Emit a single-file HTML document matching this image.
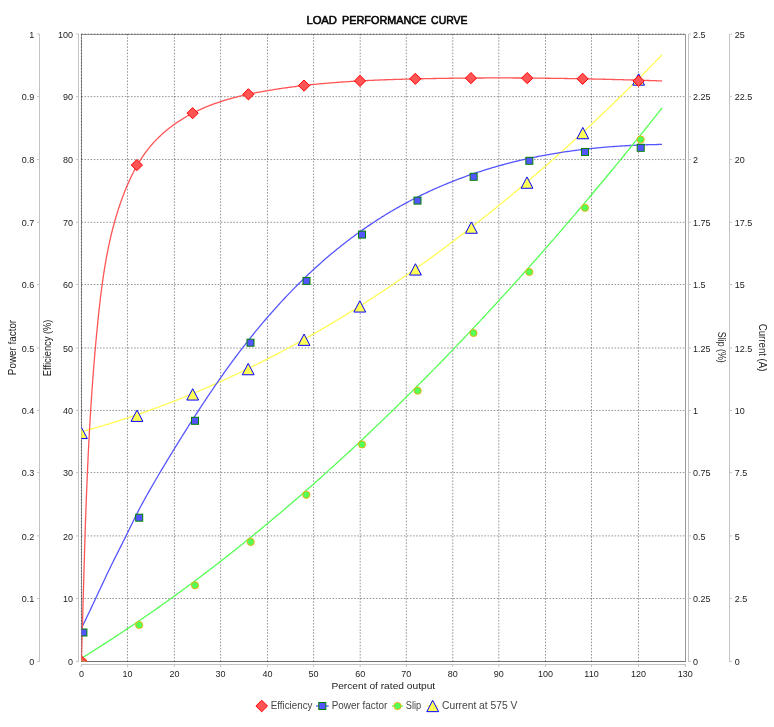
<!DOCTYPE html>
<html><head><meta charset="utf-8"><title>Load Performance Curve</title>
<style>html,body{margin:0;padding:0;background:#fff;width:774px;height:727px;overflow:hidden}</style>
</head><body>
<svg width="774" height="727" viewBox="0 0 774 727" style="display:block;will-change:transform">
<rect x="0" y="0" width="774" height="727" fill="#ffffff"/>
<text x="306.4" y="23.9" font-family="'Liberation Sans', sans-serif" font-size="11" fill="#000" stroke="#000" stroke-width="0.55" textLength="30.6" lengthAdjust="spacingAndGlyphs">LOAD</text>
<text x="342.1" y="23.9" font-family="'Liberation Sans', sans-serif" font-size="11" fill="#000" stroke="#000" stroke-width="0.55" textLength="84.2" lengthAdjust="spacingAndGlyphs">PERFORMANCE</text>
<text x="431.1" y="23.9" font-family="'Liberation Sans', sans-serif" font-size="11" fill="#000" stroke="#000" stroke-width="0.55" textLength="36.4" lengthAdjust="spacingAndGlyphs">CURVE</text>
<rect x="81.4" y="34.0" width="603.9" height="627.4" fill="#ffffff"/>
<defs><clipPath id="pc"><rect x="81.4" y="34.0" width="603.9" height="627.4"/></clipPath></defs>
<rect x="81.5" y="34.5" width="604" height="627" fill="none" stroke="#999999" stroke-width="1"/>
<line x1="81.4" y1="661.5" x2="685.8" y2="661.5" stroke="#707070" stroke-width="1"/>
<line x1="81.40" y1="34.0" x2="81.40" y2="661.4" stroke="#000000" stroke-opacity="0.85" stroke-width="0.5" stroke-dasharray="1.55 1.55"/>
<line x1="127.46" y1="34.0" x2="127.46" y2="661.4" stroke="#000000" stroke-opacity="0.85" stroke-width="0.5" stroke-dasharray="1.55 1.55"/>
<line x1="174.40" y1="34.0" x2="174.40" y2="661.4" stroke="#000000" stroke-opacity="0.85" stroke-width="0.5" stroke-dasharray="1.55 1.55"/>
<line x1="220.60" y1="34.0" x2="220.60" y2="661.4" stroke="#000000" stroke-opacity="0.85" stroke-width="0.5" stroke-dasharray="1.55 1.55"/>
<line x1="267.46" y1="34.0" x2="267.46" y2="661.4" stroke="#000000" stroke-opacity="0.85" stroke-width="0.5" stroke-dasharray="1.55 1.55"/>
<line x1="313.60" y1="34.0" x2="313.60" y2="661.4" stroke="#000000" stroke-opacity="0.85" stroke-width="0.5" stroke-dasharray="1.55 1.55"/>
<line x1="360.20" y1="34.0" x2="360.20" y2="661.4" stroke="#000000" stroke-opacity="0.85" stroke-width="0.5" stroke-dasharray="1.55 1.55"/>
<line x1="406.30" y1="34.0" x2="406.30" y2="661.4" stroke="#000000" stroke-opacity="0.85" stroke-width="0.5" stroke-dasharray="1.55 1.55"/>
<line x1="452.75" y1="34.0" x2="452.75" y2="661.4" stroke="#000000" stroke-opacity="0.85" stroke-width="0.5" stroke-dasharray="1.55 1.55"/>
<line x1="498.80" y1="34.0" x2="498.80" y2="661.4" stroke="#000000" stroke-opacity="0.85" stroke-width="0.5" stroke-dasharray="1.55 1.55"/>
<line x1="545.50" y1="34.0" x2="545.50" y2="661.4" stroke="#000000" stroke-opacity="0.85" stroke-width="0.5" stroke-dasharray="1.55 1.55"/>
<line x1="591.50" y1="34.0" x2="591.50" y2="661.4" stroke="#000000" stroke-opacity="0.85" stroke-width="0.5" stroke-dasharray="1.55 1.55"/>
<line x1="638.47" y1="34.0" x2="638.47" y2="661.4" stroke="#000000" stroke-opacity="0.85" stroke-width="0.5" stroke-dasharray="1.55 1.55"/>
<line x1="81.4" y1="598.50" x2="685.3" y2="598.50" stroke="#000000" stroke-opacity="0.85" stroke-width="0.5" stroke-dasharray="1.55 1.55"/>
<line x1="81.4" y1="535.90" x2="685.3" y2="535.90" stroke="#000000" stroke-opacity="0.85" stroke-width="0.5" stroke-dasharray="1.55 1.55"/>
<line x1="81.4" y1="472.60" x2="685.3" y2="472.60" stroke="#000000" stroke-opacity="0.85" stroke-width="0.5" stroke-dasharray="1.55 1.55"/>
<line x1="81.4" y1="410.45" x2="685.3" y2="410.45" stroke="#000000" stroke-opacity="0.85" stroke-width="0.5" stroke-dasharray="1.55 1.55"/>
<line x1="81.4" y1="348.00" x2="685.3" y2="348.00" stroke="#000000" stroke-opacity="0.85" stroke-width="0.5" stroke-dasharray="1.55 1.55"/>
<line x1="81.4" y1="284.50" x2="685.3" y2="284.50" stroke="#000000" stroke-opacity="0.85" stroke-width="0.5" stroke-dasharray="1.55 1.55"/>
<line x1="81.4" y1="222.30" x2="685.3" y2="222.30" stroke="#000000" stroke-opacity="0.85" stroke-width="0.5" stroke-dasharray="1.55 1.55"/>
<line x1="81.4" y1="159.55" x2="685.3" y2="159.55" stroke="#000000" stroke-opacity="0.85" stroke-width="0.5" stroke-dasharray="1.55 1.55"/>
<line x1="81.4" y1="96.65" x2="685.3" y2="96.65" stroke="#000000" stroke-opacity="0.85" stroke-width="0.5" stroke-dasharray="1.55 1.55"/>
<line x1="81.4" y1="34.00" x2="685.3" y2="34.00" stroke="#000000" stroke-opacity="0.85" stroke-width="0.5" stroke-dasharray="1.55 1.55"/>
<g clip-path="url(#pc)" fill="none" stroke-width="1.3" stroke-linejoin="round">
<polyline points="81.40,431.81 82.86,431.41 84.31,431.02 85.77,430.61 87.22,430.21 88.68,429.80 90.13,429.39 91.59,428.98 93.04,428.57 94.50,428.15 95.95,427.73 97.41,427.30 98.86,426.88 100.32,426.45 101.77,426.02 103.23,425.58 104.68,425.15 106.14,424.71 107.59,424.26 109.05,423.82 110.50,423.37 111.96,422.92 113.41,422.47 114.87,422.01 116.32,421.55 117.78,421.09 119.23,420.62 120.69,420.16 122.14,419.69 123.60,419.21 125.05,418.74 126.51,418.26 127.96,417.78 129.42,417.30 130.87,416.81 132.33,416.32 133.78,415.83 135.24,415.33 136.70,414.84 138.15,414.34 139.61,413.83 141.06,413.33 142.52,412.82 143.97,412.31 145.43,411.80 146.88,411.28 148.34,410.76 149.79,410.24 151.25,409.71 152.70,409.19 154.16,408.66 155.61,408.12 157.07,407.59 158.52,407.05 159.98,406.51 161.43,405.97 162.89,405.42 164.34,404.87 165.80,404.32 167.25,403.76 168.71,403.21 170.16,402.64 171.62,402.08 173.07,401.52 174.53,400.95 175.98,400.38 177.44,399.80 178.89,399.23 180.35,398.65 181.80,398.06 183.26,397.48 184.71,396.89 186.17,396.30 187.63,395.71 189.08,395.11 190.54,394.51 191.99,393.91 193.45,393.31 194.90,392.70 196.36,392.09 197.81,391.48 199.27,390.86 200.72,390.25 202.18,389.63 203.63,389.00 205.09,388.38 206.54,387.75 208.00,387.12 209.45,386.48 210.91,385.84 212.36,385.20 213.82,384.56 215.27,383.92 216.73,383.27 218.18,382.62 219.64,381.96 221.09,381.31 222.55,380.65 224.00,379.99 225.46,379.32 226.91,378.65 228.37,377.98 229.82,377.31 231.28,376.64 232.73,375.96 234.19,375.28 235.64,374.59 237.10,373.91 238.55,373.22 240.01,372.52 241.47,371.83 242.92,371.13 244.38,370.43 245.83,369.73 247.29,369.02 248.74,368.31 250.20,367.60 251.65,366.89 253.11,366.17 254.56,365.45 256.02,364.73 257.47,364.00 258.93,363.28 260.38,362.55 261.84,361.81 263.29,361.08 264.75,360.34 266.20,359.60 267.66,358.85 269.11,358.10 270.57,357.35 272.02,356.60 273.48,355.85 274.93,355.09 276.39,354.33 277.84,353.56 279.30,352.80 280.75,352.03 282.21,351.26 283.66,350.48 285.12,349.70 286.57,348.92 288.03,348.14 289.48,347.35 290.94,346.57 292.39,345.77 293.85,344.98 295.31,344.18 296.76,343.38 298.22,342.58 299.67,341.78 301.13,340.97 302.58,340.16 304.04,339.35 305.49,338.53 306.95,337.71 308.40,336.89 309.86,336.06 311.31,335.24 312.77,334.41 314.22,333.57 315.68,332.74 317.13,331.90 318.59,331.06 320.04,330.22 321.50,329.37 322.95,328.52 324.41,327.67 325.86,326.81 327.32,325.96 328.77,325.10 330.23,324.23 331.68,323.37 333.14,322.50 334.59,321.63 336.05,320.75 337.50,319.88 338.96,319.00 340.41,318.11 341.87,317.23 343.32,316.34 344.78,315.45 346.24,314.56 347.69,313.66 349.15,312.76 350.60,311.86 352.06,310.96 353.51,310.05 354.97,309.14 356.42,308.23 357.88,307.31 359.33,306.39 360.79,305.47 362.24,304.55 363.70,303.62 365.15,302.69 366.61,301.76 368.06,300.82 369.52,299.89 370.97,298.95 372.43,298.00 373.88,297.06 375.34,296.11 376.79,295.16 378.25,294.20 379.70,293.24 381.16,292.28 382.61,291.32 384.07,290.36 385.52,289.39 386.98,288.42 388.43,287.44 389.89,286.47 391.34,285.49 392.80,284.51 394.25,283.52 395.71,282.53 397.16,281.54 398.62,280.55 400.08,279.55 401.53,278.56 402.99,277.55 404.44,276.55 405.90,275.54 407.35,274.53 408.81,273.52 410.26,272.50 411.72,271.49 413.17,270.47 414.63,269.44 416.08,268.42 417.54,267.39 418.99,266.35 420.45,265.32 421.90,264.28 423.36,263.24 424.81,262.20 426.27,261.15 427.72,260.10 429.18,259.05 430.63,258.00 432.09,256.94 433.54,255.88 435.00,254.82 436.45,253.75 437.91,252.69 439.36,251.62 440.82,250.54 442.27,249.47 443.73,248.39 445.18,247.31 446.64,246.22 448.09,245.13 449.55,244.04 451.01,242.95 452.46,241.85 453.92,240.76 455.37,239.65 456.83,238.55 458.28,237.44 459.74,236.33 461.19,235.22 462.65,234.11 464.10,232.99 465.56,231.87 467.01,230.74 468.47,229.62 469.92,228.49 471.38,227.36 472.83,226.22 474.29,225.08 475.74,223.94 477.20,222.80 478.65,221.65 480.11,220.50 481.56,219.35 483.02,218.20 484.47,217.04 485.93,215.88 487.38,214.72 488.84,213.55 490.29,212.39 491.75,211.22 493.20,210.04 494.66,208.87 496.11,207.69 497.57,206.50 499.02,205.32 500.48,204.13 501.93,202.94 503.39,201.75 504.85,200.55 506.30,199.35 507.76,198.15 509.21,196.95 510.67,195.74 512.12,194.53 513.58,193.32 515.03,192.10 516.49,190.88 517.94,189.66 519.40,188.44 520.85,187.21 522.31,185.98 523.76,184.75 525.22,183.52 526.67,182.28 528.13,181.04 529.58,179.79 531.04,178.55 532.49,177.30 533.95,176.05 535.40,174.79 536.86,173.53 538.31,172.27 539.77,171.01 541.22,169.75 542.68,168.48 544.13,167.21 545.59,165.93 547.04,164.66 548.50,163.38 549.95,162.09 551.41,160.81 552.86,159.52 554.32,158.23 555.77,156.94 557.23,155.64 558.69,154.34 560.14,153.04 561.60,151.73 563.05,150.43 564.51,149.12 565.96,147.80 567.42,146.49 568.87,145.17 570.33,143.85 571.78,142.52 573.24,141.19 574.69,139.86 576.15,138.53 577.60,137.20 579.06,135.86 580.51,134.52 581.97,133.17 583.42,131.83 584.88,130.48 586.33,129.12 587.79,127.77 589.24,126.41 590.70,125.05 592.15,123.69 593.61,122.32 595.06,120.95 596.52,119.58 597.97,118.21 599.43,116.83 600.88,115.45 602.34,114.06 603.79,112.68 605.25,111.29 606.70,109.90 608.16,108.50 609.62,107.11 611.07,105.71 612.53,104.30 613.98,102.90 615.44,101.49 616.89,100.08 618.35,98.67 619.80,97.25 621.26,95.83 622.71,94.41 624.17,92.98 625.62,91.55 627.08,90.12 628.53,88.69 629.99,87.25 631.44,85.81 632.90,84.37 634.35,82.93 635.81,81.48 637.26,80.03 638.72,78.58 640.17,77.12 641.63,75.66 643.08,74.20 644.54,72.74 645.99,71.27 647.45,69.80 648.90,68.33 650.36,66.85 651.81,65.37 653.27,63.89 654.72,62.41 656.18,60.92 657.63,59.43 659.09,57.94 660.54,56.44 662.00,54.95" stroke="#FFFF55"/>
<polyline points="81.40,628.20 82.86,625.28 84.31,622.33 85.77,619.34 87.22,616.33 88.68,613.29 90.13,610.23 91.59,607.15 93.04,604.05 94.50,600.95 95.95,597.83 97.41,594.71 98.86,591.59 100.32,588.47 101.77,585.36 103.23,582.26 104.68,579.17 106.14,576.09 107.59,573.04 109.05,570.01 110.50,567.00 111.96,564.02 113.41,561.08 114.87,558.15 116.32,555.25 117.78,552.36 119.23,549.48 120.69,546.59 122.14,543.71 123.60,540.81 125.05,537.90 126.51,534.97 127.96,532.01 129.42,529.03 130.87,526.03 132.33,523.03 133.78,520.05 135.24,517.10 136.70,514.20 138.15,511.36 139.61,508.56 141.06,505.82 142.52,503.12 143.97,500.46 145.43,497.83 146.88,495.22 148.34,492.64 149.79,490.08 151.25,487.53 152.70,485.00 154.16,482.48 155.61,479.98 157.07,477.49 158.52,475.01 159.98,472.54 161.43,470.09 162.89,467.65 164.34,465.22 165.80,462.80 167.25,460.39 168.71,457.99 170.16,455.60 171.62,453.22 173.07,450.85 174.53,448.48 175.98,446.12 177.44,443.76 178.89,441.42 180.35,439.08 181.80,436.75 183.26,434.42 184.71,432.11 186.17,429.80 187.63,427.50 189.08,425.20 190.54,422.92 191.99,420.64 193.45,418.37 194.90,416.12 196.36,413.87 197.81,411.62 199.27,409.39 200.72,407.17 202.18,404.96 203.63,402.75 205.09,400.56 206.54,398.37 208.00,396.20 209.45,394.04 210.91,391.88 212.36,389.74 213.82,387.61 215.27,385.49 216.73,383.38 218.18,381.28 219.64,379.19 221.09,377.11 222.55,375.05 224.00,372.99 225.46,370.95 226.91,368.92 228.37,366.90 229.82,364.90 231.28,362.90 232.73,360.92 234.19,358.96 235.64,357.00 237.10,355.06 238.55,353.13 240.01,351.21 241.47,349.30 242.92,347.41 244.38,345.53 245.83,343.66 247.29,341.81 248.74,339.96 250.20,338.13 251.65,336.31 253.11,334.50 254.56,332.71 256.02,330.93 257.47,329.15 258.93,327.40 260.38,325.65 261.84,323.91 263.29,322.19 264.75,320.48 266.20,318.77 267.66,317.09 269.11,315.41 270.57,313.74 272.02,312.09 273.48,310.45 274.93,308.81 276.39,307.19 277.84,305.58 279.30,303.99 280.75,302.40 282.21,300.83 283.66,299.26 285.12,297.71 286.57,296.17 288.03,294.64 289.48,293.12 290.94,291.61 292.39,290.11 293.85,288.62 295.31,287.15 296.76,285.68 298.22,284.23 299.67,282.78 301.13,281.35 302.58,279.93 304.04,278.52 305.49,277.11 306.95,275.72 308.40,274.34 309.86,272.97 311.31,271.61 312.77,270.26 314.22,268.92 315.68,267.59 317.13,266.27 318.59,264.96 320.04,263.66 321.50,262.37 322.95,261.09 324.41,259.82 325.86,258.56 327.32,257.31 328.77,256.07 330.23,254.84 331.68,253.62 333.14,252.41 334.59,251.21 336.05,250.01 337.50,248.83 338.96,247.66 340.41,246.49 341.87,245.34 343.32,244.19 344.78,243.06 346.24,241.93 347.69,240.81 349.15,239.70 350.60,238.60 352.06,237.51 353.51,236.43 354.97,235.36 356.42,234.30 357.88,233.24 359.33,232.20 360.79,231.16 362.24,230.13 363.70,229.11 365.15,228.10 366.61,227.09 368.06,226.10 369.52,225.11 370.97,224.14 372.43,223.17 373.88,222.21 375.34,221.25 376.79,220.31 378.25,219.37 379.70,218.45 381.16,217.53 382.61,216.62 384.07,215.71 385.52,214.82 386.98,213.93 388.43,213.05 389.89,212.18 391.34,211.31 392.80,210.46 394.25,209.61 395.71,208.77 397.16,207.93 398.62,207.11 400.08,206.29 401.53,205.48 402.99,204.67 404.44,203.88 405.90,203.09 407.35,202.31 408.81,201.53 410.26,200.77 411.72,200.01 413.17,199.25 414.63,198.51 416.08,197.77 417.54,197.04 418.99,196.31 420.45,195.59 421.90,194.88 423.36,194.18 424.81,193.48 426.27,192.79 427.72,192.11 429.18,191.43 430.63,190.76 432.09,190.09 433.54,189.43 435.00,188.78 436.45,188.14 437.91,187.50 439.36,186.87 440.82,186.24 442.27,185.62 443.73,185.01 445.18,184.40 446.64,183.80 448.09,183.20 449.55,182.61 451.01,182.03 452.46,181.45 453.92,180.88 455.37,180.31 456.83,179.75 458.28,179.19 459.74,178.64 461.19,178.10 462.65,177.56 464.10,177.03 465.56,176.50 467.01,175.98 468.47,175.46 469.92,174.95 471.38,174.45 472.83,173.95 474.29,173.45 475.74,172.96 477.20,172.48 478.65,172.00 480.11,171.52 481.56,171.05 483.02,170.59 484.47,170.13 485.93,169.67 487.38,169.22 488.84,168.78 490.29,168.34 491.75,167.91 493.20,167.48 494.66,167.05 496.11,166.63 497.57,166.22 499.02,165.81 500.48,165.40 501.93,165.00 503.39,164.60 504.85,164.21 506.30,163.82 507.76,163.44 509.21,163.07 510.67,162.69 512.12,162.32 513.58,161.96 515.03,161.60 516.49,161.25 517.94,160.90 519.40,160.55 520.85,160.21 522.31,159.87 523.76,159.54 525.22,159.21 526.67,158.89 528.13,158.57 529.58,158.26 531.04,157.94 532.49,157.64 533.95,157.34 535.40,157.04 536.86,156.74 538.31,156.45 539.77,156.17 541.22,155.89 542.68,155.61 544.13,155.34 545.59,155.07 547.04,154.80 548.50,154.54 549.95,154.28 551.41,154.03 552.86,153.78 554.32,153.53 555.77,153.29 557.23,153.05 558.69,152.82 560.14,152.59 561.60,152.36 563.05,152.14 564.51,151.92 565.96,151.70 567.42,151.49 568.87,151.28 570.33,151.08 571.78,150.88 573.24,150.68 574.69,150.49 576.15,150.30 577.60,150.11 579.06,149.93 580.51,149.75 581.97,149.57 583.42,149.40 584.88,149.23 586.33,149.06 587.79,148.90 589.24,148.74 590.70,148.58 592.15,148.43 593.61,148.28 595.06,148.13 596.52,147.99 597.97,147.85 599.43,147.71 600.88,147.57 602.34,147.44 603.79,147.31 605.25,147.19 606.70,147.07 608.16,146.95 609.62,146.83 611.07,146.72 612.53,146.61 613.98,146.50 615.44,146.40 616.89,146.29 618.35,146.20 619.80,146.10 621.26,146.01 622.71,145.92 624.17,145.83 625.62,145.74 627.08,145.66 628.53,145.58 629.99,145.50 631.44,145.43 632.90,145.36 634.35,145.29 635.81,145.22 637.26,145.15 638.72,145.09 640.17,145.03 641.63,144.97 643.08,144.92 644.54,144.87 645.99,144.82 647.45,144.77 648.90,144.72 650.36,144.68 651.81,144.64 653.27,144.60 654.72,144.56 656.18,144.53 657.63,144.50 659.09,144.47 660.54,144.44 662.00,144.41" stroke="#5555FF"/>
<polyline points="81.40,658.28 82.86,657.39 84.31,656.49 85.77,655.59 87.22,654.69 88.68,653.78 90.13,652.88 91.59,651.96 93.04,651.05 94.50,650.14 95.95,649.22 97.41,648.30 98.86,647.38 100.32,646.45 101.77,645.52 103.23,644.59 104.68,643.66 106.14,642.72 107.59,641.78 109.05,640.84 110.50,639.90 111.96,638.96 113.41,638.01 114.87,637.06 116.32,636.10 117.78,635.15 119.23,634.19 120.69,633.23 122.14,632.27 123.60,631.30 125.05,630.33 126.51,629.36 127.96,628.39 129.42,627.41 130.87,626.43 132.33,625.45 133.78,624.47 135.24,623.48 136.70,622.50 138.15,621.51 139.61,620.51 141.06,619.52 142.52,618.52 143.97,617.52 145.43,616.51 146.88,615.51 148.34,614.50 149.79,613.49 151.25,612.48 152.70,611.46 154.16,610.44 155.61,609.42 157.07,608.40 158.52,607.37 159.98,606.35 161.43,605.32 162.89,604.28 164.34,603.25 165.80,602.21 167.25,601.17 168.71,600.12 170.16,599.08 171.62,598.03 173.07,596.98 174.53,595.93 175.98,594.87 177.44,593.81 178.89,592.75 180.35,591.69 181.80,590.63 183.26,589.56 184.71,588.49 186.17,587.41 187.63,586.34 189.08,585.26 190.54,584.18 191.99,583.10 193.45,582.01 194.90,580.93 196.36,579.84 197.81,578.74 199.27,577.65 200.72,576.55 202.18,575.45 203.63,574.35 205.09,573.24 206.54,572.14 208.00,571.03 209.45,569.91 210.91,568.80 212.36,567.68 213.82,566.56 215.27,565.44 216.73,564.32 218.18,563.19 219.64,562.06 221.09,560.93 222.55,559.79 224.00,558.66 225.46,557.52 226.91,556.37 228.37,555.23 229.82,554.08 231.28,552.93 232.73,551.78 234.19,550.63 235.64,549.47 237.10,548.31 238.55,547.15 240.01,545.99 241.47,544.82 242.92,543.65 244.38,542.48 245.83,541.31 247.29,540.13 248.74,538.95 250.20,537.77 251.65,536.59 253.11,535.40 254.56,534.21 256.02,533.02 257.47,531.83 258.93,530.63 260.38,529.43 261.84,528.23 263.29,527.03 264.75,525.83 266.20,524.62 267.66,523.41 269.11,522.19 270.57,520.98 272.02,519.76 273.48,518.54 274.93,517.32 276.39,516.09 277.84,514.87 279.30,513.64 280.75,512.41 282.21,511.17 283.66,509.93 285.12,508.69 286.57,507.45 288.03,506.21 289.48,504.96 290.94,503.71 292.39,502.46 293.85,501.21 295.31,499.95 296.76,498.69 298.22,497.43 299.67,496.17 301.13,494.90 302.58,493.63 304.04,492.36 305.49,491.09 306.95,489.81 308.40,488.53 309.86,487.25 311.31,485.97 312.77,484.68 314.22,483.39 315.68,482.10 317.13,480.81 318.59,479.52 320.04,478.22 321.50,476.92 322.95,475.62 324.41,474.31 325.86,473.00 327.32,471.69 328.77,470.38 330.23,469.07 331.68,467.75 333.14,466.43 334.59,465.11 336.05,463.79 337.50,462.46 338.96,461.13 340.41,459.80 341.87,458.47 343.32,457.13 344.78,455.79 346.24,454.45 347.69,453.11 349.15,451.76 350.60,450.41 352.06,449.06 353.51,447.71 354.97,446.36 356.42,445.00 357.88,443.64 359.33,442.28 360.79,440.91 362.24,439.54 363.70,438.17 365.15,436.80 366.61,435.43 368.06,434.05 369.52,432.67 370.97,431.29 372.43,429.91 373.88,428.52 375.34,427.13 376.79,425.74 378.25,424.35 379.70,422.95 381.16,421.55 382.61,420.15 384.07,418.75 385.52,417.35 386.98,415.94 388.43,414.53 389.89,413.11 391.34,411.70 392.80,410.28 394.25,408.86 395.71,407.44 397.16,406.02 398.62,404.59 400.08,403.16 401.53,401.73 402.99,400.30 404.44,398.86 405.90,397.42 407.35,395.98 408.81,394.54 410.26,393.09 411.72,391.64 413.17,390.19 414.63,388.74 416.08,387.29 417.54,385.83 418.99,384.37 420.45,382.91 421.90,381.44 423.36,379.97 424.81,378.51 426.27,377.03 427.72,375.56 429.18,374.08 430.63,372.61 432.09,371.12 433.54,369.64 435.00,368.15 436.45,366.67 437.91,365.18 439.36,363.68 440.82,362.19 442.27,360.69 443.73,359.19 445.18,357.69 446.64,356.18 448.09,354.68 449.55,353.17 451.01,351.66 452.46,350.14 453.92,348.63 455.37,347.11 456.83,345.59 458.28,344.06 459.74,342.54 461.19,341.01 462.65,339.48 464.10,337.95 465.56,336.41 467.01,334.87 468.47,333.33 469.92,331.79 471.38,330.25 472.83,328.70 474.29,327.15 475.74,325.60 477.20,324.05 478.65,322.49 480.11,320.93 481.56,319.37 483.02,317.81 484.47,316.24 485.93,314.68 487.38,313.11 488.84,311.53 490.29,309.96 491.75,308.38 493.20,306.80 494.66,305.22 496.11,303.64 497.57,302.05 499.02,300.46 500.48,298.87 501.93,297.28 503.39,295.68 504.85,294.09 506.30,292.49 507.76,290.88 509.21,289.28 510.67,287.67 512.12,286.06 513.58,284.45 515.03,282.84 516.49,281.22 517.94,279.60 519.40,277.98 520.85,276.36 522.31,274.73 523.76,273.10 525.22,271.47 526.67,269.84 528.13,268.20 529.58,266.57 531.04,264.93 532.49,263.29 533.95,261.64 535.40,260.00 536.86,258.35 538.31,256.70 539.77,255.04 541.22,253.39 542.68,251.73 544.13,250.07 545.59,248.41 547.04,246.74 548.50,245.07 549.95,243.40 551.41,241.73 552.86,240.06 554.32,238.38 555.77,236.70 557.23,235.02 558.69,233.34 560.14,231.65 561.60,229.97 563.05,228.28 564.51,226.58 565.96,224.89 567.42,223.19 568.87,221.49 570.33,219.79 571.78,218.09 573.24,216.38 574.69,214.67 576.15,212.96 577.60,211.25 579.06,209.53 580.51,207.82 581.97,206.10 583.42,204.38 584.88,202.65 586.33,200.92 587.79,199.20 589.24,197.46 590.70,195.73 592.15,193.99 593.61,192.26 595.06,190.52 596.52,188.77 597.97,187.03 599.43,185.28 600.88,183.53 602.34,181.78 603.79,180.03 605.25,178.27 606.70,176.51 608.16,174.75 609.62,172.99 611.07,171.22 612.53,169.46 613.98,167.69 615.44,165.91 616.89,164.14 618.35,162.36 619.80,160.58 621.26,158.80 622.71,157.02 624.17,155.23 625.62,153.45 627.08,151.66 628.53,149.86 629.99,148.07 631.44,146.27 632.90,144.47 634.35,142.67 635.81,140.87 637.26,139.06 638.72,137.25 640.17,135.44 641.63,133.63 643.08,131.82 644.54,130.00 645.99,128.18 647.45,126.36 648.90,124.53 650.36,122.71 651.81,120.88 653.27,119.05 654.72,117.21 656.18,115.38 657.63,113.54 659.09,111.70 660.54,109.86 662.00,108.02" stroke="#55FF55"/>
<polyline points="81.40,661.40 81.44,660.23 81.47,659.05 81.51,657.88 81.54,656.71 81.58,655.53 81.62,654.36 81.65,653.19 81.69,652.01 81.72,650.84 81.76,649.67 81.79,648.50 81.82,647.32 81.86,646.15 81.89,644.98 81.93,643.80 81.96,642.63 82.00,641.46 82.03,640.29 82.06,639.11 82.10,637.94 82.13,636.77 82.17,635.59 82.20,634.42 82.23,633.25 82.27,632.08 82.30,630.90 82.33,629.73 82.37,628.56 82.40,627.39 82.43,626.22 82.46,625.04 82.50,623.87 82.53,622.70 82.56,621.53 82.60,620.35 82.63,619.18 82.66,618.01 82.69,616.84 82.73,615.67 82.76,614.49 82.79,613.32 82.83,612.15 82.86,610.98 82.89,609.81 82.92,608.63 82.96,607.46 82.99,606.29 83.02,605.12 83.05,603.95 83.09,602.77 83.12,601.60 83.15,600.43 83.18,599.26 83.22,598.09 83.25,596.92 83.28,595.74 83.31,594.57 83.35,593.40 83.38,592.23 83.41,591.06 83.44,589.89 83.48,588.72 83.51,587.54 83.54,586.37 83.58,585.20 83.61,584.03 83.64,582.86 83.68,581.69 83.71,580.52 83.74,579.35 83.77,578.17 83.81,577.00 83.84,575.83 83.87,574.66 83.91,573.49 83.94,572.32 83.98,571.15 84.01,569.98 84.04,568.81 84.08,567.64 84.11,566.46 84.15,565.29 84.18,564.12 84.21,562.95 84.25,561.78 84.28,560.61 84.32,559.44 84.35,558.27 84.39,557.10 84.42,555.93 84.46,554.76 84.49,553.59 84.53,552.42 84.56,551.25 84.60,550.08 84.63,548.90 84.67,547.73 84.71,546.56 84.74,545.39 84.78,544.22 84.82,543.05 84.85,541.88 84.89,540.71 84.93,539.54 84.96,538.37 85.00,537.20 85.04,536.03 85.08,534.86 85.11,533.69 85.15,532.52 85.19,531.35 85.23,530.18 85.27,529.01 85.30,527.84 85.34,526.67 85.38,525.50 85.42,524.33 85.46,523.16 85.50,521.99 85.54,520.82 85.58,519.65 85.62,518.48 85.66,517.31 85.70,516.14 85.74,514.97 85.79,513.80 85.83,512.63 85.87,511.46 85.91,510.29 85.95,509.12 85.99,507.95 86.04,506.78 86.08,505.61 86.12,504.44 86.17,503.27 86.21,502.10 86.25,500.93 86.30,499.76 86.34,498.59 86.39,497.42 86.43,496.25 86.48,495.08 86.52,493.91 86.57,492.74 86.62,491.57 86.66,490.40 86.71,489.23 86.75,488.07 86.80,486.90 86.85,485.73 86.90,484.56 86.95,483.39 86.99,482.22 87.04,481.05 87.09,479.88 87.14,478.71 87.19,477.54 87.24,476.37 87.29,475.20 87.34,474.03 87.39,472.86 87.44,471.69 87.50,470.52 87.55,469.35 87.60,468.19 87.65,467.02 87.71,465.85 87.76,464.68 87.81,463.51 87.87,462.34 87.92,461.17 87.98,460.00 88.03,458.83 88.09,457.66 88.14,456.49 88.20,455.32 88.26,454.15 88.31,452.99 88.37,451.82 88.43,450.65 88.49,449.48 88.54,448.31 88.60,447.14 88.66,445.97 88.72,444.80 88.78,443.63 88.84,442.46 88.90,441.29 88.96,440.13 89.03,438.96 89.09,437.79 89.15,436.62 89.21,435.45 89.28,434.28 89.34,433.11 89.41,431.94 89.47,430.77 89.54,429.60 89.60,428.44 89.67,427.27 89.73,426.10 89.80,424.93 89.87,423.76 89.94,422.59 90.00,421.42 90.07,420.25 90.14,419.08 90.21,417.91 90.28,416.75 90.35,415.58 90.42,414.41 90.50,413.24 90.57,412.07 90.64,410.90 90.71,409.73 90.79,408.56 90.86,407.39 90.94,406.23 91.01,405.06 91.09,403.89 91.16,402.72 91.24,401.55 91.32,400.38 91.39,399.21 91.47,398.04 91.55,396.88 91.63,395.71 91.71,394.54 91.79,393.37 91.87,392.20 91.95,391.03 92.03,389.86 92.12,388.69 92.20,387.52 92.28,386.36 92.37,385.19 92.45,384.02 92.54,382.85 92.62,381.68 92.71,380.51 92.80,379.34 92.88,378.17 92.97,377.01 93.06,375.84 93.15,374.67 93.24,373.50 93.33,372.33 93.42,371.16 93.51,369.99 93.60,368.82 93.70,367.66 93.79,366.49 93.88,365.32 93.98,364.15 94.07,362.98 94.17,361.81 94.26,360.64 94.36,359.47 94.46,358.31 94.56,357.14 94.65,355.97 94.75,354.80 94.85,353.63 94.95,352.46 95.06,351.29 95.16,350.12 95.26,348.95 95.36,347.79 95.47,346.62 95.57,345.45 95.68,344.28 95.78,343.11 95.89,341.94 96.00,340.77 96.10,339.60 96.21,338.44 96.32,337.27 96.43,336.10 96.54,334.93 96.65,333.76 96.76,332.59 96.88,331.42 96.99,330.25 97.10,329.08 97.22,327.92 97.33,326.75 97.45,325.58 97.57,324.41 97.68,323.24 97.80,322.07 97.92,320.90 98.04,319.73 98.16,318.56 98.28,317.40 98.40,316.23 98.53,315.06 98.65,313.89 98.77,312.72 98.90,311.55 99.03,310.38 99.15,309.21 99.28,308.05 99.41,306.88 99.54,305.71 99.67,304.54 99.81,303.37 99.94,302.21 100.08,301.04 100.21,299.87 100.35,298.70 100.49,297.54 100.63,296.37 100.78,295.20 100.92,294.04 101.07,292.87 101.21,291.71 101.36,290.54 101.51,289.38 101.66,288.21 101.82,287.05 101.97,285.88 102.13,284.72 102.29,283.55 102.45,282.39 102.61,281.23 102.78,280.07 102.95,278.90 103.12,277.74 103.29,276.58 103.46,275.42 103.64,274.26 103.81,273.10 103.99,271.94 104.17,270.78 104.36,269.62 104.55,268.47 104.73,267.31 104.93,266.15 105.12,265.00 105.32,263.84 105.51,262.69 105.72,261.53 105.92,260.38 106.13,259.22 106.34,258.07 106.55,256.92 106.76,255.77 106.98,254.62 107.20,253.47 107.42,252.32 107.65,251.17 107.88,250.02 108.11,248.87 108.34,247.73 108.58,246.58 108.82,245.44 109.07,244.29 109.31,243.15 109.56,242.01 109.82,240.86 110.07,239.72 110.33,238.58 110.60,237.44 110.86,236.30 111.13,235.17 111.41,234.03 111.68,232.89 111.96,231.76 112.25,230.62 112.53,229.49 112.83,228.36 113.12,227.23 113.42,226.10 113.72,224.97 114.03,223.84 114.34,222.71 114.65,221.58 114.97,220.46 115.29,219.33 115.61,218.21 115.94,217.09 116.28,215.97 116.61,214.85 116.96,213.73 117.30,212.61 117.65,211.49 118.01,210.38 118.36,209.26 118.73,208.15 119.09,207.04 119.47,205.92 119.84,204.81 120.22,203.70 120.61,202.60 120.99,201.49 121.39,200.39 121.79,199.28 122.19,198.18 122.60,197.08 123.01,195.98 123.43,194.88 123.85,193.78 124.27,192.68 124.71,191.59 125.14,190.50 125.58,189.40 126.03,188.31 126.48,187.23 126.94,186.14 127.40,185.06 127.87,183.98 128.35,182.90 128.82,181.82 129.31,180.75 129.80,179.68 130.30,178.62 130.80,177.55 131.31,176.49 131.83,175.44 132.35,174.38 132.88,173.33 133.41,172.29 133.95,171.25 134.50,170.21 135.06,169.18 135.62,168.15 136.19,167.12 136.76,166.11 137.35,165.09 137.94,164.08 138.54,163.08 139.14,162.08 139.75,161.08 140.37,160.10 141.00,159.11 141.64,158.14 142.28,157.17 142.93,156.20 143.59,155.24 144.26,154.29 144.93,153.34 145.62,152.40 146.31,151.47 147.01,150.54 147.72,149.62 148.43,148.71 149.16,147.80 149.90,146.91 150.64,146.02 151.39,145.13 152.15,144.26 152.92,143.39 153.70,142.53 154.49,141.68 155.28,140.83 156.09,139.99 156.90,139.16 157.72,138.34 158.55,137.52 159.38,136.72 160.23,135.92 161.08,135.12 161.93,134.34 162.80,133.56 163.67,132.79 164.55,132.03 165.44,131.27 166.33,130.52 167.23,129.78 168.14,129.05 169.05,128.32 169.97,127.61 170.90,126.90 171.83,126.19 172.77,125.50 173.72,124.81 174.67,124.13 175.62,123.46 176.59,122.79 177.55,122.14 178.53,121.48 179.51,120.84 180.49,120.21 181.48,119.58 182.47,118.96 183.47,118.35 184.48,117.74 185.49,117.14 186.50,116.55 187.52,115.97 188.54,115.40 189.57,114.83 190.60,114.27 191.63,113.72 192.67,113.17 193.72,112.63 194.76,112.10 195.81,111.58 196.87,111.07 197.92,110.56 198.98,110.06 200.05,109.57 201.12,109.08 202.19,108.60 203.26,108.13 204.33,107.67 205.41,107.22 206.50,106.77 207.58,106.33 208.67,105.89 209.76,105.46 210.85,105.04 211.95,104.63 213.04,104.22 214.15,103.82 215.25,103.42 216.35,103.03 217.46,102.65 218.57,102.27 219.68,101.90 220.80,101.54 221.92,101.18 223.03,100.83 224.16,100.48 225.28,100.14 226.40,99.80 227.53,99.47 228.66,99.14 229.79,98.82 230.92,98.51 232.05,98.20 233.19,97.89 234.33,97.59 235.47,97.30 236.61,97.01 237.75,96.72 238.89,96.44 240.04,96.16 241.18,95.89 242.33,95.62 243.48,95.35 244.63,95.09 245.78,94.84 246.93,94.58 248.08,94.33 249.23,94.09 250.39,93.85 251.54,93.61 252.70,93.38 253.85,93.14 255.01,92.92 256.17,92.69 257.33,92.47 258.49,92.25 259.65,92.04 260.81,91.82 261.97,91.61 263.13,91.41 264.29,91.20 265.45,91.00 266.61,90.80 267.77,90.60 268.93,90.41 270.09,90.21 271.25,90.02 272.42,89.83 273.58,89.65 274.74,89.46 275.90,89.28 277.06,89.10 278.23,88.92 279.39,88.75 280.55,88.58 281.71,88.40 282.87,88.23 284.04,88.07 285.20,87.90 286.36,87.74 287.52,87.58 288.69,87.42 289.85,87.26 291.01,87.11 292.18,86.95 293.34,86.80 294.50,86.65 295.67,86.51 296.83,86.36 297.99,86.22 299.16,86.07 300.32,85.93 301.48,85.80 302.65,85.66 303.81,85.53 304.97,85.39 306.14,85.26 307.30,85.13 308.47,85.01 309.63,84.88 310.80,84.76 311.96,84.63 313.12,84.51 314.29,84.40 315.45,84.28 316.62,84.16 317.78,84.05 318.95,83.94 320.11,83.83 321.28,83.72 322.44,83.61 323.61,83.51 324.77,83.40 325.94,83.30 327.10,83.20 328.27,83.10 329.43,83.00 330.60,82.90 331.76,82.81 332.93,82.71 334.10,82.62 335.26,82.53 336.43,82.44 337.59,82.35 338.76,82.27 339.93,82.18 341.09,82.10 342.26,82.02 343.43,81.93 344.59,81.85 345.76,81.78 346.92,81.70 348.09,81.62 349.26,81.55 350.42,81.47 351.59,81.40 352.76,81.33 353.93,81.26 355.09,81.19 356.26,81.12 357.43,81.06 358.59,80.99 359.76,80.93 360.93,80.87 362.10,80.80 363.26,80.74 364.43,80.68 365.60,80.62 366.77,80.57 367.93,80.51 369.10,80.45 370.27,80.40 371.44,80.35 372.61,80.29 373.77,80.24 374.94,80.19 376.11,80.14 377.28,80.09 378.45,80.04 379.62,80.00 380.79,79.95 381.95,79.90 383.12,79.86 384.29,79.81 385.46,79.77 386.63,79.73 387.80,79.69 388.97,79.65 390.14,79.61 391.30,79.57 392.47,79.53 393.64,79.49 394.81,79.45 395.98,79.42 397.15,79.38 398.32,79.35 399.49,79.31 400.66,79.28 401.83,79.24 403.00,79.21 404.17,79.18 405.34,79.15 406.51,79.11 407.68,79.08 408.85,79.05 410.02,79.02 411.19,79.00 412.36,78.97 413.53,78.94 414.70,78.91 415.87,78.88 417.04,78.86 418.21,78.83 419.38,78.80 420.55,78.78 421.72,78.75 422.90,78.73 424.07,78.70 425.24,78.68 426.41,78.65 427.58,78.63 428.75,78.61 429.92,78.59 431.09,78.56 432.26,78.54 433.43,78.52 434.61,78.50 435.78,78.48 436.95,78.46 438.12,78.44 439.29,78.42 440.46,78.40 441.64,78.38 442.81,78.37 443.98,78.35 445.15,78.33 446.32,78.31 447.49,78.30 448.67,78.28 449.84,78.27 451.01,78.25 452.18,78.24 453.35,78.22 454.53,78.21 455.70,78.19 456.87,78.18 458.04,78.17 459.21,78.15 460.39,78.14 461.56,78.13 462.73,78.12 463.90,78.11 465.08,78.10 466.25,78.09 467.42,78.08 468.59,78.07 469.77,78.06 470.94,78.05 472.11,78.04 473.28,78.03 474.46,78.03 475.63,78.02 476.80,78.01 477.97,78.01 479.15,78.00 480.32,77.99 481.49,77.99 482.67,77.98 483.84,77.98 485.01,77.97 486.18,77.97 487.36,77.97 488.53,77.96 489.70,77.96 490.88,77.96 492.05,77.96 493.22,77.95 494.40,77.95 495.57,77.95 496.74,77.95 497.91,77.95 499.09,77.95 500.26,77.95 501.43,77.95 502.61,77.95 503.78,77.95 504.95,77.96 506.13,77.96 507.30,77.96 508.47,77.96 509.65,77.97 510.82,77.97 511.99,77.97 513.17,77.98 514.34,77.98 515.51,77.99 516.69,77.99 517.86,78.00 519.03,78.00 520.21,78.01 521.38,78.02 522.55,78.02 523.73,78.03 524.90,78.04 526.07,78.04 527.25,78.05 528.42,78.06 529.59,78.07 530.76,78.08 531.94,78.09 533.11,78.10 534.28,78.11 535.46,78.12 536.63,78.13 537.80,78.14 538.98,78.15 540.15,78.16 541.32,78.18 542.50,78.19 543.67,78.20 544.84,78.21 546.02,78.23 547.19,78.24 548.36,78.25 549.54,78.27 550.71,78.28 551.88,78.30 553.06,78.31 554.23,78.33 555.40,78.34 556.57,78.36 557.75,78.38 558.92,78.39 560.09,78.41 561.27,78.43 562.44,78.45 563.61,78.46 564.79,78.48 565.96,78.50 567.13,78.52 568.30,78.54 569.48,78.56 570.65,78.58 571.82,78.60 573.00,78.62 574.17,78.64 575.34,78.66 576.51,78.68 577.69,78.70 578.86,78.72 580.03,78.75 581.20,78.77 582.38,78.79 583.55,78.81 584.72,78.84 585.89,78.86 587.07,78.88 588.24,78.91 589.41,78.93 590.58,78.96 591.76,78.98 592.93,79.01 594.10,79.03 595.27,79.06 596.44,79.08 597.62,79.11 598.79,79.14 599.96,79.16 601.13,79.19 602.30,79.22 603.48,79.25 604.65,79.27 605.82,79.30 606.99,79.33 608.16,79.36 609.33,79.39 610.51,79.42 611.68,79.45 612.85,79.48 614.02,79.51 615.19,79.54 616.36,79.57 617.53,79.60 618.71,79.63 619.88,79.66 621.05,79.69 622.22,79.72 623.39,79.76 624.56,79.79 625.73,79.82 626.90,79.85 628.07,79.89 629.24,79.92 630.41,79.95 631.59,79.99 632.76,80.02 633.93,80.06 635.10,80.09 636.27,80.12 637.44,80.16 638.61,80.19 639.78,80.23 640.95,80.27 642.12,80.30 643.29,80.34 644.46,80.37 645.63,80.41 646.80,80.45 647.97,80.49 649.14,80.52 650.31,80.56 651.48,80.60 652.65,80.64 653.82,80.67 654.98,80.71 656.15,80.75 657.32,80.79 658.49,80.83 659.66,80.87 660.83,80.91 662.00,80.95" stroke="#FF5555"/>
</g>
<g clip-path="url(#pc)">
<polygon points="81.40,427.25 87.30,438.55 75.50,438.55" fill="#FFFF55" stroke="#0000FF" stroke-width="1"/>
<polygon points="137.00,410.10 142.90,421.40 131.10,421.40" fill="#FFFF55" stroke="#0000FF" stroke-width="1"/>
<polygon points="192.70,388.75 198.60,400.05 186.80,400.05" fill="#FFFF55" stroke="#0000FF" stroke-width="1"/>
<polygon points="248.20,363.45 254.10,374.75 242.30,374.75" fill="#FFFF55" stroke="#0000FF" stroke-width="1"/>
<polygon points="304.05,334.05 309.95,345.35 298.15,345.35" fill="#FFFF55" stroke="#0000FF" stroke-width="1"/>
<polygon points="359.80,300.75 365.70,312.05 353.90,312.05" fill="#FFFF55" stroke="#0000FF" stroke-width="1"/>
<polygon points="415.45,263.75 421.35,275.05 409.55,275.05" fill="#FFFF55" stroke="#0000FF" stroke-width="1"/>
<polygon points="471.40,221.95 477.30,233.25 465.50,233.25" fill="#FFFF55" stroke="#0000FF" stroke-width="1"/>
<polygon points="527.00,176.95 532.90,188.25 521.10,188.25" fill="#FFFF55" stroke="#0000FF" stroke-width="1"/>
<polygon points="582.80,127.45 588.70,138.75 576.90,138.75" fill="#FFFF55" stroke="#0000FF" stroke-width="1"/>
<polygon points="638.60,73.85 644.50,85.15 632.70,85.15" fill="#FFFF55" stroke="#0000FF" stroke-width="1"/>
<circle cx="83.20" cy="662.00" r="3.6" fill="#55FF55" stroke="#F7A600" stroke-width="0.85"/>
<circle cx="139.15" cy="625.00" r="3.6" fill="#55FF55" stroke="#F7A600" stroke-width="0.85"/>
<circle cx="195.00" cy="585.30" r="3.6" fill="#55FF55" stroke="#F7A600" stroke-width="0.85"/>
<circle cx="250.70" cy="541.90" r="3.6" fill="#55FF55" stroke="#F7A600" stroke-width="0.85"/>
<circle cx="306.30" cy="494.80" r="3.6" fill="#55FF55" stroke="#F7A600" stroke-width="0.85"/>
<circle cx="362.00" cy="444.40" r="3.6" fill="#55FF55" stroke="#F7A600" stroke-width="0.85"/>
<circle cx="417.65" cy="390.70" r="3.6" fill="#55FF55" stroke="#F7A600" stroke-width="0.85"/>
<circle cx="473.50" cy="333.00" r="3.6" fill="#55FF55" stroke="#F7A600" stroke-width="0.85"/>
<circle cx="529.30" cy="272.00" r="3.6" fill="#55FF55" stroke="#F7A600" stroke-width="0.85"/>
<circle cx="585.00" cy="207.80" r="3.6" fill="#55FF55" stroke="#F7A600" stroke-width="0.85"/>
<circle cx="640.70" cy="139.50" r="3.6" fill="#55FF55" stroke="#F7A600" stroke-width="0.85"/>
<rect x="79.90" y="629.00" width="7.0" height="7.0" fill="#5555FF" stroke="#008000" stroke-width="1"/>
<rect x="135.70" y="514.20" width="7.0" height="7.0" fill="#5555FF" stroke="#008000" stroke-width="1"/>
<rect x="191.50" y="417.30" width="7.0" height="7.0" fill="#5555FF" stroke="#008000" stroke-width="1"/>
<rect x="247.00" y="339.20" width="7.0" height="7.0" fill="#5555FF" stroke="#008000" stroke-width="1"/>
<rect x="303.00" y="277.40" width="7.0" height="7.0" fill="#5555FF" stroke="#008000" stroke-width="1"/>
<rect x="358.50" y="231.10" width="7.0" height="7.0" fill="#5555FF" stroke="#008000" stroke-width="1"/>
<rect x="414.00" y="197.10" width="7.0" height="7.0" fill="#5555FF" stroke="#008000" stroke-width="1"/>
<rect x="470.15" y="173.30" width="7.0" height="7.0" fill="#5555FF" stroke="#008000" stroke-width="1"/>
<rect x="525.85" y="157.30" width="7.0" height="7.0" fill="#5555FF" stroke="#008000" stroke-width="1"/>
<rect x="581.50" y="148.45" width="7.0" height="7.0" fill="#5555FF" stroke="#008000" stroke-width="1"/>
<rect x="637.20" y="144.30" width="7.0" height="7.0" fill="#5555FF" stroke="#008000" stroke-width="1"/>
<polygon points="81.40,655.80 87.00,661.40 81.40,667.00 75.80,661.40" fill="#FF5555" stroke="#FF0000" stroke-width="1"/>
<polygon points="136.85,159.50 142.45,165.10 136.85,170.70 131.25,165.10" fill="#FF5555" stroke="#FF0000" stroke-width="1"/>
<polygon points="192.60,107.60 198.20,113.20 192.60,118.80 187.00,113.20" fill="#FF5555" stroke="#FF0000" stroke-width="1"/>
<polygon points="248.40,88.70 254.00,94.30 248.40,99.90 242.80,94.30" fill="#FF5555" stroke="#FF0000" stroke-width="1"/>
<polygon points="304.05,80.00 309.65,85.60 304.05,91.20 298.45,85.60" fill="#FF5555" stroke="#FF0000" stroke-width="1"/>
<polygon points="360.00,75.30 365.60,80.90 360.00,86.50 354.40,80.90" fill="#FF5555" stroke="#FF0000" stroke-width="1"/>
<polygon points="415.30,73.20 420.90,78.80 415.30,84.40 409.70,78.80" fill="#FF5555" stroke="#FF0000" stroke-width="1"/>
<polygon points="470.95,72.55 476.55,78.15 470.95,83.75 465.35,78.15" fill="#FF5555" stroke="#FF0000" stroke-width="1"/>
<polygon points="527.20,72.50 532.80,78.10 527.20,83.70 521.60,78.10" fill="#FF5555" stroke="#FF0000" stroke-width="1"/>
<polygon points="582.60,73.20 588.20,78.80 582.60,84.40 577.00,78.80" fill="#FF5555" stroke="#FF0000" stroke-width="1"/>
<polygon points="638.60,75.30 644.20,80.90 638.60,86.50 633.00,80.90" fill="#FF5555" stroke="#FF0000" stroke-width="1"/>
</g>
<line x1="39.5" y1="34.0" x2="39.5" y2="661.9" stroke="#c4c4c4" stroke-width="1"/>
<line x1="78.5" y1="34.0" x2="78.5" y2="661.9" stroke="#c4c4c4" stroke-width="1"/>
<line x1="688.5" y1="34.0" x2="688.5" y2="661.9" stroke="#c4c4c4" stroke-width="1"/>
<line x1="729.5" y1="34.0" x2="729.5" y2="661.9" stroke="#c4c4c4" stroke-width="1"/>
<line x1="81.4" y1="664.5" x2="685.8" y2="664.5" stroke="#c4c4c4" stroke-width="1"/>
<line x1="37" y1="661.4" x2="39.5" y2="661.4" stroke="#c4c4c4" stroke-width="1"/>
<line x1="76" y1="661.4" x2="78.5" y2="661.4" stroke="#c4c4c4" stroke-width="1"/>
<line x1="688.5" y1="661.4" x2="691" y2="661.4" stroke="#c4c4c4" stroke-width="1"/>
<line x1="729.5" y1="661.4" x2="732" y2="661.4" stroke="#c4c4c4" stroke-width="1"/>
<line x1="37" y1="598.5" x2="39.5" y2="598.5" stroke="#c4c4c4" stroke-width="1"/>
<line x1="76" y1="598.5" x2="78.5" y2="598.5" stroke="#c4c4c4" stroke-width="1"/>
<line x1="688.5" y1="598.5" x2="691" y2="598.5" stroke="#c4c4c4" stroke-width="1"/>
<line x1="729.5" y1="598.5" x2="732" y2="598.5" stroke="#c4c4c4" stroke-width="1"/>
<line x1="37" y1="535.9" x2="39.5" y2="535.9" stroke="#c4c4c4" stroke-width="1"/>
<line x1="76" y1="535.9" x2="78.5" y2="535.9" stroke="#c4c4c4" stroke-width="1"/>
<line x1="688.5" y1="535.9" x2="691" y2="535.9" stroke="#c4c4c4" stroke-width="1"/>
<line x1="729.5" y1="535.9" x2="732" y2="535.9" stroke="#c4c4c4" stroke-width="1"/>
<line x1="37" y1="472.6" x2="39.5" y2="472.6" stroke="#c4c4c4" stroke-width="1"/>
<line x1="76" y1="472.6" x2="78.5" y2="472.6" stroke="#c4c4c4" stroke-width="1"/>
<line x1="688.5" y1="472.6" x2="691" y2="472.6" stroke="#c4c4c4" stroke-width="1"/>
<line x1="729.5" y1="472.6" x2="732" y2="472.6" stroke="#c4c4c4" stroke-width="1"/>
<line x1="37" y1="410.45" x2="39.5" y2="410.45" stroke="#c4c4c4" stroke-width="1"/>
<line x1="76" y1="410.45" x2="78.5" y2="410.45" stroke="#c4c4c4" stroke-width="1"/>
<line x1="688.5" y1="410.45" x2="691" y2="410.45" stroke="#c4c4c4" stroke-width="1"/>
<line x1="729.5" y1="410.45" x2="732" y2="410.45" stroke="#c4c4c4" stroke-width="1"/>
<line x1="37" y1="348.0" x2="39.5" y2="348.0" stroke="#c4c4c4" stroke-width="1"/>
<line x1="76" y1="348.0" x2="78.5" y2="348.0" stroke="#c4c4c4" stroke-width="1"/>
<line x1="688.5" y1="348.0" x2="691" y2="348.0" stroke="#c4c4c4" stroke-width="1"/>
<line x1="729.5" y1="348.0" x2="732" y2="348.0" stroke="#c4c4c4" stroke-width="1"/>
<line x1="37" y1="284.5" x2="39.5" y2="284.5" stroke="#c4c4c4" stroke-width="1"/>
<line x1="76" y1="284.5" x2="78.5" y2="284.5" stroke="#c4c4c4" stroke-width="1"/>
<line x1="688.5" y1="284.5" x2="691" y2="284.5" stroke="#c4c4c4" stroke-width="1"/>
<line x1="729.5" y1="284.5" x2="732" y2="284.5" stroke="#c4c4c4" stroke-width="1"/>
<line x1="37" y1="222.3" x2="39.5" y2="222.3" stroke="#c4c4c4" stroke-width="1"/>
<line x1="76" y1="222.3" x2="78.5" y2="222.3" stroke="#c4c4c4" stroke-width="1"/>
<line x1="688.5" y1="222.3" x2="691" y2="222.3" stroke="#c4c4c4" stroke-width="1"/>
<line x1="729.5" y1="222.3" x2="732" y2="222.3" stroke="#c4c4c4" stroke-width="1"/>
<line x1="37" y1="159.55" x2="39.5" y2="159.55" stroke="#c4c4c4" stroke-width="1"/>
<line x1="76" y1="159.55" x2="78.5" y2="159.55" stroke="#c4c4c4" stroke-width="1"/>
<line x1="688.5" y1="159.55" x2="691" y2="159.55" stroke="#c4c4c4" stroke-width="1"/>
<line x1="729.5" y1="159.55" x2="732" y2="159.55" stroke="#c4c4c4" stroke-width="1"/>
<line x1="37" y1="96.65" x2="39.5" y2="96.65" stroke="#c4c4c4" stroke-width="1"/>
<line x1="76" y1="96.65" x2="78.5" y2="96.65" stroke="#c4c4c4" stroke-width="1"/>
<line x1="688.5" y1="96.65" x2="691" y2="96.65" stroke="#c4c4c4" stroke-width="1"/>
<line x1="729.5" y1="96.65" x2="732" y2="96.65" stroke="#c4c4c4" stroke-width="1"/>
<line x1="37" y1="34.0" x2="39.5" y2="34.0" stroke="#c4c4c4" stroke-width="1"/>
<line x1="76" y1="34.0" x2="78.5" y2="34.0" stroke="#c4c4c4" stroke-width="1"/>
<line x1="688.5" y1="34.0" x2="691" y2="34.0" stroke="#c4c4c4" stroke-width="1"/>
<line x1="729.5" y1="34.0" x2="732" y2="34.0" stroke="#c4c4c4" stroke-width="1"/>
<line x1="81.4" y1="664.5" x2="81.4" y2="667" stroke="#c4c4c4" stroke-width="1"/>
<line x1="127.46" y1="664.5" x2="127.46" y2="667" stroke="#c4c4c4" stroke-width="1"/>
<line x1="174.4" y1="664.5" x2="174.4" y2="667" stroke="#c4c4c4" stroke-width="1"/>
<line x1="220.6" y1="664.5" x2="220.6" y2="667" stroke="#c4c4c4" stroke-width="1"/>
<line x1="267.46" y1="664.5" x2="267.46" y2="667" stroke="#c4c4c4" stroke-width="1"/>
<line x1="313.6" y1="664.5" x2="313.6" y2="667" stroke="#c4c4c4" stroke-width="1"/>
<line x1="360.2" y1="664.5" x2="360.2" y2="667" stroke="#c4c4c4" stroke-width="1"/>
<line x1="406.3" y1="664.5" x2="406.3" y2="667" stroke="#c4c4c4" stroke-width="1"/>
<line x1="452.75" y1="664.5" x2="452.75" y2="667" stroke="#c4c4c4" stroke-width="1"/>
<line x1="498.8" y1="664.5" x2="498.8" y2="667" stroke="#c4c4c4" stroke-width="1"/>
<line x1="545.5" y1="664.5" x2="545.5" y2="667" stroke="#c4c4c4" stroke-width="1"/>
<line x1="591.5" y1="664.5" x2="591.5" y2="667" stroke="#c4c4c4" stroke-width="1"/>
<line x1="638.47" y1="664.5" x2="638.47" y2="667" stroke="#c4c4c4" stroke-width="1"/>
<line x1="685.3" y1="664.5" x2="685.3" y2="667" stroke="#c4c4c4" stroke-width="1"/>
<text x="34.20" y="665.07" font-family="'Liberation Sans', sans-serif" font-size="9.5" fill="#222222" text-anchor="end" textLength="5.0046875" lengthAdjust="spacingAndGlyphs" >0</text>
<text x="73.00" y="665.07" font-family="'Liberation Sans', sans-serif" font-size="9.5" fill="#222222" text-anchor="end" textLength="5.0046875" lengthAdjust="spacingAndGlyphs" >0</text>
<text x="693.00" y="665.07" font-family="'Liberation Sans', sans-serif" font-size="9.5" fill="#222222" text-anchor="start" textLength="5.0046875" lengthAdjust="spacingAndGlyphs" >0</text>
<text x="734.70" y="665.07" font-family="'Liberation Sans', sans-serif" font-size="9.5" fill="#222222" text-anchor="start" textLength="5.0046875" lengthAdjust="spacingAndGlyphs" >0</text>
<text x="34.20" y="602.17" font-family="'Liberation Sans', sans-serif" font-size="9.5" fill="#222222" text-anchor="end" textLength="12.509375" lengthAdjust="spacingAndGlyphs" >0.1</text>
<text x="73.00" y="602.17" font-family="'Liberation Sans', sans-serif" font-size="9.5" fill="#222222" text-anchor="end" textLength="10.009375" lengthAdjust="spacingAndGlyphs" >10</text>
<text x="693.00" y="602.17" font-family="'Liberation Sans', sans-serif" font-size="9.5" fill="#222222" text-anchor="start" textLength="17.5140625" lengthAdjust="spacingAndGlyphs" >0.25</text>
<text x="734.70" y="602.17" font-family="'Liberation Sans', sans-serif" font-size="9.5" fill="#222222" text-anchor="start" textLength="12.509375" lengthAdjust="spacingAndGlyphs" >2.5</text>
<text x="34.20" y="539.57" font-family="'Liberation Sans', sans-serif" font-size="9.5" fill="#222222" text-anchor="end" textLength="12.509375" lengthAdjust="spacingAndGlyphs" >0.2</text>
<text x="73.00" y="539.57" font-family="'Liberation Sans', sans-serif" font-size="9.5" fill="#222222" text-anchor="end" textLength="10.009375" lengthAdjust="spacingAndGlyphs" >20</text>
<text x="693.00" y="539.57" font-family="'Liberation Sans', sans-serif" font-size="9.5" fill="#222222" text-anchor="start" textLength="12.509375" lengthAdjust="spacingAndGlyphs" >0.5</text>
<text x="734.70" y="539.57" font-family="'Liberation Sans', sans-serif" font-size="9.5" fill="#222222" text-anchor="start" textLength="5.0046875" lengthAdjust="spacingAndGlyphs" >5</text>
<text x="34.20" y="476.28" font-family="'Liberation Sans', sans-serif" font-size="9.5" fill="#222222" text-anchor="end" textLength="12.509375" lengthAdjust="spacingAndGlyphs" >0.3</text>
<text x="73.00" y="476.28" font-family="'Liberation Sans', sans-serif" font-size="9.5" fill="#222222" text-anchor="end" textLength="10.009375" lengthAdjust="spacingAndGlyphs" >30</text>
<text x="693.00" y="476.28" font-family="'Liberation Sans', sans-serif" font-size="9.5" fill="#222222" text-anchor="start" textLength="17.5140625" lengthAdjust="spacingAndGlyphs" >0.75</text>
<text x="734.70" y="476.28" font-family="'Liberation Sans', sans-serif" font-size="9.5" fill="#222222" text-anchor="start" textLength="12.509375" lengthAdjust="spacingAndGlyphs" >7.5</text>
<text x="34.20" y="414.12" font-family="'Liberation Sans', sans-serif" font-size="9.5" fill="#222222" text-anchor="end" textLength="12.509375" lengthAdjust="spacingAndGlyphs" >0.4</text>
<text x="73.00" y="414.12" font-family="'Liberation Sans', sans-serif" font-size="9.5" fill="#222222" text-anchor="end" textLength="10.009375" lengthAdjust="spacingAndGlyphs" >40</text>
<text x="693.00" y="414.12" font-family="'Liberation Sans', sans-serif" font-size="9.5" fill="#222222" text-anchor="start" textLength="5.0046875" lengthAdjust="spacingAndGlyphs" >1</text>
<text x="734.70" y="414.12" font-family="'Liberation Sans', sans-serif" font-size="9.5" fill="#222222" text-anchor="start" textLength="10.009375" lengthAdjust="spacingAndGlyphs" >10</text>
<text x="34.20" y="351.68" font-family="'Liberation Sans', sans-serif" font-size="9.5" fill="#222222" text-anchor="end" textLength="12.509375" lengthAdjust="spacingAndGlyphs" >0.5</text>
<text x="73.00" y="351.68" font-family="'Liberation Sans', sans-serif" font-size="9.5" fill="#222222" text-anchor="end" textLength="10.009375" lengthAdjust="spacingAndGlyphs" >50</text>
<text x="693.00" y="351.68" font-family="'Liberation Sans', sans-serif" font-size="9.5" fill="#222222" text-anchor="start" textLength="17.5140625" lengthAdjust="spacingAndGlyphs" >1.25</text>
<text x="734.70" y="351.68" font-family="'Liberation Sans', sans-serif" font-size="9.5" fill="#222222" text-anchor="start" textLength="17.5140625" lengthAdjust="spacingAndGlyphs" >12.5</text>
<text x="34.20" y="288.18" font-family="'Liberation Sans', sans-serif" font-size="9.5" fill="#222222" text-anchor="end" textLength="12.509375" lengthAdjust="spacingAndGlyphs" >0.6</text>
<text x="73.00" y="288.18" font-family="'Liberation Sans', sans-serif" font-size="9.5" fill="#222222" text-anchor="end" textLength="10.009375" lengthAdjust="spacingAndGlyphs" >60</text>
<text x="693.00" y="288.18" font-family="'Liberation Sans', sans-serif" font-size="9.5" fill="#222222" text-anchor="start" textLength="12.509375" lengthAdjust="spacingAndGlyphs" >1.5</text>
<text x="734.70" y="288.18" font-family="'Liberation Sans', sans-serif" font-size="9.5" fill="#222222" text-anchor="start" textLength="10.009375" lengthAdjust="spacingAndGlyphs" >15</text>
<text x="34.20" y="225.98" font-family="'Liberation Sans', sans-serif" font-size="9.5" fill="#222222" text-anchor="end" textLength="12.509375" lengthAdjust="spacingAndGlyphs" >0.7</text>
<text x="73.00" y="225.98" font-family="'Liberation Sans', sans-serif" font-size="9.5" fill="#222222" text-anchor="end" textLength="10.009375" lengthAdjust="spacingAndGlyphs" >70</text>
<text x="693.00" y="225.98" font-family="'Liberation Sans', sans-serif" font-size="9.5" fill="#222222" text-anchor="start" textLength="17.5140625" lengthAdjust="spacingAndGlyphs" >1.75</text>
<text x="734.70" y="225.98" font-family="'Liberation Sans', sans-serif" font-size="9.5" fill="#222222" text-anchor="start" textLength="17.5140625" lengthAdjust="spacingAndGlyphs" >17.5</text>
<text x="34.20" y="163.23" font-family="'Liberation Sans', sans-serif" font-size="9.5" fill="#222222" text-anchor="end" textLength="12.509375" lengthAdjust="spacingAndGlyphs" >0.8</text>
<text x="73.00" y="163.23" font-family="'Liberation Sans', sans-serif" font-size="9.5" fill="#222222" text-anchor="end" textLength="10.009375" lengthAdjust="spacingAndGlyphs" >80</text>
<text x="693.00" y="163.23" font-family="'Liberation Sans', sans-serif" font-size="9.5" fill="#222222" text-anchor="start" textLength="5.0046875" lengthAdjust="spacingAndGlyphs" >2</text>
<text x="734.70" y="163.23" font-family="'Liberation Sans', sans-serif" font-size="9.5" fill="#222222" text-anchor="start" textLength="10.009375" lengthAdjust="spacingAndGlyphs" >20</text>
<text x="34.20" y="100.33" font-family="'Liberation Sans', sans-serif" font-size="9.5" fill="#222222" text-anchor="end" textLength="12.509375" lengthAdjust="spacingAndGlyphs" >0.9</text>
<text x="73.00" y="100.33" font-family="'Liberation Sans', sans-serif" font-size="9.5" fill="#222222" text-anchor="end" textLength="10.009375" lengthAdjust="spacingAndGlyphs" >90</text>
<text x="693.00" y="100.33" font-family="'Liberation Sans', sans-serif" font-size="9.5" fill="#222222" text-anchor="start" textLength="17.5140625" lengthAdjust="spacingAndGlyphs" >2.25</text>
<text x="734.70" y="100.33" font-family="'Liberation Sans', sans-serif" font-size="9.5" fill="#222222" text-anchor="start" textLength="17.5140625" lengthAdjust="spacingAndGlyphs" >22.5</text>
<text x="34.20" y="37.67" font-family="'Liberation Sans', sans-serif" font-size="9.5" fill="#222222" text-anchor="end" textLength="5.0046875" lengthAdjust="spacingAndGlyphs" >1</text>
<text x="73.00" y="37.67" font-family="'Liberation Sans', sans-serif" font-size="9.5" fill="#222222" text-anchor="end" textLength="15.0140625" lengthAdjust="spacingAndGlyphs" >100</text>
<text x="693.00" y="37.67" font-family="'Liberation Sans', sans-serif" font-size="9.5" fill="#222222" text-anchor="start" textLength="12.509375" lengthAdjust="spacingAndGlyphs" >2.5</text>
<text x="734.70" y="37.67" font-family="'Liberation Sans', sans-serif" font-size="9.5" fill="#222222" text-anchor="start" textLength="10.009375" lengthAdjust="spacingAndGlyphs" >25</text>
<text x="81.40" y="676.80" font-family="'Liberation Sans', sans-serif" font-size="9.5" fill="#222222" text-anchor="middle" textLength="5.0046875" lengthAdjust="spacingAndGlyphs" >0</text>
<text x="127.46" y="676.80" font-family="'Liberation Sans', sans-serif" font-size="9.5" fill="#222222" text-anchor="middle" textLength="10.009375" lengthAdjust="spacingAndGlyphs" >10</text>
<text x="174.40" y="676.80" font-family="'Liberation Sans', sans-serif" font-size="9.5" fill="#222222" text-anchor="middle" textLength="10.009375" lengthAdjust="spacingAndGlyphs" >20</text>
<text x="220.60" y="676.80" font-family="'Liberation Sans', sans-serif" font-size="9.5" fill="#222222" text-anchor="middle" textLength="10.009375" lengthAdjust="spacingAndGlyphs" >30</text>
<text x="267.46" y="676.80" font-family="'Liberation Sans', sans-serif" font-size="9.5" fill="#222222" text-anchor="middle" textLength="10.009375" lengthAdjust="spacingAndGlyphs" >40</text>
<text x="313.60" y="676.80" font-family="'Liberation Sans', sans-serif" font-size="9.5" fill="#222222" text-anchor="middle" textLength="10.009375" lengthAdjust="spacingAndGlyphs" >50</text>
<text x="360.20" y="676.80" font-family="'Liberation Sans', sans-serif" font-size="9.5" fill="#222222" text-anchor="middle" textLength="10.009375" lengthAdjust="spacingAndGlyphs" >60</text>
<text x="406.30" y="676.80" font-family="'Liberation Sans', sans-serif" font-size="9.5" fill="#222222" text-anchor="middle" textLength="10.009375" lengthAdjust="spacingAndGlyphs" >70</text>
<text x="452.75" y="676.80" font-family="'Liberation Sans', sans-serif" font-size="9.5" fill="#222222" text-anchor="middle" textLength="10.009375" lengthAdjust="spacingAndGlyphs" >80</text>
<text x="498.80" y="676.80" font-family="'Liberation Sans', sans-serif" font-size="9.5" fill="#222222" text-anchor="middle" textLength="10.009375" lengthAdjust="spacingAndGlyphs" >90</text>
<text x="545.50" y="676.80" font-family="'Liberation Sans', sans-serif" font-size="9.5" fill="#222222" text-anchor="middle" textLength="15.0140625" lengthAdjust="spacingAndGlyphs" >100</text>
<text x="591.50" y="676.80" font-family="'Liberation Sans', sans-serif" font-size="9.5" fill="#222222" text-anchor="middle" textLength="14.346875" lengthAdjust="spacingAndGlyphs" >110</text>
<text x="638.47" y="676.80" font-family="'Liberation Sans', sans-serif" font-size="9.5" fill="#222222" text-anchor="middle" textLength="15.0140625" lengthAdjust="spacingAndGlyphs" >120</text>
<text x="685.30" y="676.80" font-family="'Liberation Sans', sans-serif" font-size="9.5" fill="#222222" text-anchor="middle" textLength="15.0140625" lengthAdjust="spacingAndGlyphs" >130</text>
<text x="383.30" y="689.00" font-family="'Liberation Sans', sans-serif" font-size="9.6" fill="#222222" text-anchor="middle" textLength="103.8" lengthAdjust="spacingAndGlyphs" >Percent of rated output</text>
<text transform="translate(15.9,347.5) rotate(-90)" x="0" y="0" font-family="'Liberation Sans', sans-serif" font-size="10" fill="#222222" text-anchor="middle" textLength="55.3" lengthAdjust="spacingAndGlyphs">Power factor</text>
<text transform="translate(50.8,347.9) rotate(-90)" x="0" y="0" font-family="'Liberation Sans', sans-serif" font-size="10" fill="#222222" text-anchor="middle" textLength="56.7" lengthAdjust="spacingAndGlyphs">Efficiency (%)</text>
<text transform="translate(718.0,347.3) rotate(90)" x="0" y="0" font-family="'Liberation Sans', sans-serif" font-size="10" fill="#222222" text-anchor="middle" textLength="31" lengthAdjust="spacingAndGlyphs">Slip (%)</text>
<text transform="translate(759.0,347.6) rotate(90)" x="0" y="0" font-family="'Liberation Sans', sans-serif" font-size="10" fill="#222222" text-anchor="middle" textLength="47.8" lengthAdjust="spacingAndGlyphs">Current (A)</text>
<polygon points="261.70,700.20 267.50,706.00 261.70,711.80 255.90,706.00" fill="#FF5555" stroke="#FF0000" stroke-width="1"/>
<text x="270.80" y="708.90" font-family="'Liberation Sans', sans-serif" font-size="10" fill="#444444" text-anchor="start" textLength="41.6" lengthAdjust="spacingAndGlyphs" >Efficiency</text>
<line x1="316" y1="706.0" x2="328.7" y2="706.0" stroke="#5555FF" stroke-width="1.3"/>
<rect x="318.80" y="702.50" width="7.0" height="7.0" fill="#5555FF" stroke="#008000" stroke-width="1"/>
<text x="331.70" y="708.90" font-family="'Liberation Sans', sans-serif" font-size="10" fill="#444444" text-anchor="start" textLength="55.7" lengthAdjust="spacingAndGlyphs" >Power factor</text>
<line x1="391.9" y1="706.0" x2="403" y2="706.0" stroke="#55FF55" stroke-width="1.3"/>
<circle cx="397.50" cy="706.00" r="3.6" fill="#55FF55" stroke="#F7A600" stroke-width="0.85"/>
<text x="405.80" y="708.90" font-family="'Liberation Sans', sans-serif" font-size="10" fill="#444444" text-anchor="start" textLength="15.4" lengthAdjust="spacingAndGlyphs" >Slip</text>
<line x1="427" y1="706.0" x2="438.5" y2="706.0" stroke="#FFFF55" stroke-width="1.3"/>
<polygon points="432.70,700.35 438.60,711.65 426.80,711.65" fill="#FFFF55" stroke="#0000FF" stroke-width="1"/>
<text x="442.00" y="708.90" font-family="'Liberation Sans', sans-serif" font-size="10" fill="#444444" text-anchor="start" textLength="75.4" lengthAdjust="spacingAndGlyphs" >Current at 575 V</text>
</svg>
</body></html>
